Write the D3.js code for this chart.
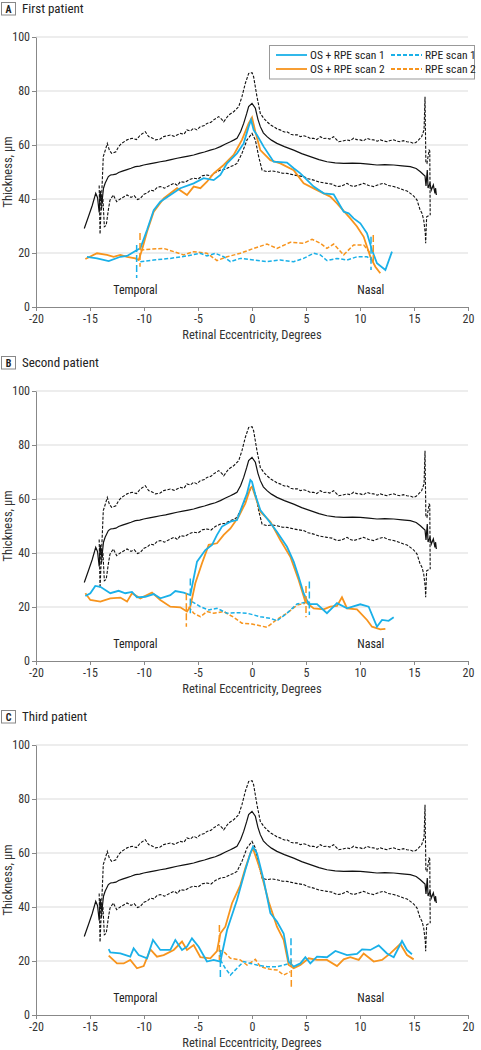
<!DOCTYPE html>
<html><head><meta charset="utf-8">
<script src="https://cdn.jsdelivr.net/npm/d3@7"></script>
<style>
body{margin:0;background:#fff}
svg text{font-family:"Liberation Sans Narrow","Roboto Condensed","Liberation Sans",sans-serif;fill:#333}
</style>
</head><body>
<svg id="chart" width="481" height="1050"></svg>
<script>
// ---------- DATA ----------
const xTicks = [-20,-15,-10,-5,0,5,10,15,20];
const yTicks = [0,20,40,60,80,100];
const panelLetters = ["A","B","C"];
const panelTitles = ["First patient","Second patient","Third patient"];
const legendLabels = ["OS + RPE scan 1","OS + RPE scan 2","RPE scan 1","RPE scan 2"];
const sideLabels = [["Temporal",-10.8],["Nasal",11.0]];

// normative data (same in every panel): mean and bounds
const normMean = [[-15.53,29.1],[-15.1,34],[-14.8,37.5],[-14.47,42.1],[-14.3,40.5],[-14.15,35],[-14.05,43],[-13.9,38.5],[-13.75,44],[-13.6,45.8],[-13.3,48.3],[-13.1,48.9],[-12.84,49],[-12.6,49.2],[-12.35,49.8],[-12.0,50.3],[-11.57,50.9],[-11.2,51.4],[-10.8,52.0],[-10.4,52.2],[-10.03,52.6],[-9.5,53.0],[-9.0,53.4],[-8.49,53.8],[-8.0,54.1],[-7.5,54.6],[-6.94,55.1],[-6.4,55.5],[-5.9,55.9],[-5.4,56.3],[-4.9,56.9],[-4.4,57.4],[-3.86,58.1],[-3.4,58.6],[-2.93,59.4],[-2.5,60.3],[-2.0,61.2],[-1.7,61.8],[-1.39,62.5],[-1.05,65],[-0.77,68.0],[-0.5,71.5],[-0.31,74.2],[0,75.4],[0.31,73.6],[0.55,69.5],[0.77,66.8],[1.05,64.5],[1.39,63.1],[1.8,61.8],[2.31,60.6],[3.0,59.4],[3.86,58.1],[4.6,56.8],[5.4,55.7],[6.2,54.6],[6.94,53.8],[7.7,53.4],[8.49,53.2],[9.3,53.3],[10.03,53.2],[10.8,52.9],[11.57,52.6],[12.3,52.7],[13.12,52.6],[13.9,52.3],[14.66,52.0],[15.2,51.3],[15.59,50.1],[16.02,48.5],[16.11,44.8],[16.23,50.7],[16.3,44.1],[16.48,45.8],[16.6,43.3],[16.79,45.2],[16.94,42.1],[17.0,44],[17.07,41.5]];
const normUpper = [[-14.15,45],[-14.07,27],[-13.77,55.7],[-13.55,58.5],[-13.4,60.6],[-13.2,58],[-12.99,56.9],[-12.6,57.5],[-12.35,59.4],[-12.07,60.6],[-11.57,61.9],[-11.1,62.5],[-10.7,62],[-10.34,63.7],[-9.88,64.9],[-9.57,63.1],[-9.2,62.5],[-8.95,61.9],[-8.5,62.2],[-8.18,63.1],[-7.56,63.7],[-7.2,63.2],[-6.64,64.3],[-6.3,64.0],[-6.02,65.6],[-5.7,65.2],[-5.4,66.2],[-5.1,65.6],[-4.78,66.8],[-4.4,67.2],[-4.17,68.0],[-3.8,68.4],[-3.55,69.3],[-3.09,70.5],[-2.8,69.5],[-2.62,68.6],[-2.16,71.1],[-1.7,72.3],[-1.23,74.2],[-0.93,77.9],[-0.62,82.8],[-0.31,86.5],[0,86.8],[0.15,85.3],[0.46,77.9],[0.77,71.7],[1.1,69.8],[1.39,68.6],[1.7,67.5],[2.0,66.8],[2.3,66.0],[2.6,65.6],[3.0,64.8],[3.24,64.9],[3.6,64.0],[3.86,63.7],[4.2,63.8],[4.48,63.1],[4.8,63.4],[5.09,63.1],[5.4,62.4],[5.71,62.5],[6.0,62.0],[6.33,63.1],[6.6,62.4],[6.94,62.5],[7.2,62.2],[7.56,63.1],[8.02,61.2],[8.4,61.5],[8.8,61.9],[9.1,61.6],[9.41,62.5],[9.7,62],[10.03,61.9],[10.3,61.5],[10.65,62.5],[11.0,62.0],[11.27,61.9],[11.6,61.4],[11.88,61.9],[12.2,61.5],[12.5,61.2],[12.8,61.7],[13.12,61.9],[13.4,61.4],[13.73,61.2],[14.0,61.6],[14.35,61.2],[14.7,61.0],[14.97,60.6],[15.2,61.0],[15.43,61.9],[15.7,63.0],[15.93,65.6],[16.02,77.9],[16.1,53.5],[16.2,53.2],[16.4,58.1],[16.46,57.8],[16.5,34]];
const normLower = [[-14.1,42],[-13.95,36],[-13.8,40],[-13.67,29.7],[-13.5,30.2],[-13.3,36],[-13.15,39.6],[-12.84,41.5],[-12.53,39.0],[-12.35,39.6],[-12.0,40.5],[-11.57,41.5],[-11.2,40.6],[-10.9,41.2],[-10.6,39.8],[-10.34,40.2],[-10.0,41.8],[-9.7,42.2],[-9.41,43.3],[-9.1,43.0],[-8.8,44.2],[-8.49,44.6],[-8.1,44.0],[-7.56,45.2],[-7.2,45.8],[-6.9,45.0],[-6.64,46.4],[-6.2,46.2],[-5.8,47.2],[-5.4,47.7],[-5.0,47.4],[-4.6,48.6],[-4.17,48.9],[-3.8,48.5],[-3.4,49.8],[-2.93,50.7],[-2.5,51.0],[-2.0,52.0],[-1.7,52.4],[-1.39,53.2],[-0.93,56.9],[-0.46,61.9],[0,64.3],[0.31,61.9],[0.62,55.7],[0.93,50.7],[1.39,50.1],[1.8,50.4],[2.31,50.1],[2.8,49.6],[3.24,49.5],[3.86,48.9],[4.3,48.6],[4.78,48.3],[5.2,47.5],[5.71,47.0],[6.3,46.2],[6.94,45.8],[7.4,45.5],[7.87,44.6],[8.3,44.8],[8.8,45.8],[9.1,45.0],[9.41,44.6],[9.9,45.2],[10.34,45.8],[10.8,45.0],[11.27,44.6],[11.7,45.3],[12.19,45.8],[12.6,45.0],[13.12,44.6],[13.6,44.0],[14.04,43.3],[14.35,43.0],[14.66,42.1],[15.0,41.0],[15.28,39.6],[15.56,36],[15.74,34.7],[15.9,32.2],[16.05,27],[16.08,23.6],[16.17,33.4],[16.45,34]];

// Panel A
const osScan1A = [[-15.28,18.6],[-14.35,18.0],[-13.27,17.0],[-12.19,18.6],[-11.57,18.9],[-10.65,21.1],[-10.34,21.7],[-9.72,28.5],[-9.1,35.9],[-8.49,39.0],[-7.56,41.5],[-6.64,44.0],[-5.4,45.8],[-4.48,47.7],[-3.55,47.0],[-2.93,48.9],[-2.31,53.2],[-1.39,56.9],[-0.77,60.6],[-0.31,66.8],[-0.09,69.3],[0.15,65.6],[0.46,63.7],[1.08,59.4],[2.0,53.8],[3.24,53.5],[3.86,51.4],[4.48,49.5],[5.71,44.6],[6.64,42.1],[7.56,41.7],[8.49,35.3],[8.95,34.7],[9.41,32.8],[10.03,31.0],[10.65,27.3],[11.11,21.1],[11.57,16.2],[12.35,13.7],[12.96,20.5]];
const osScan2A = [[-15.43,17.8],[-14.35,19.9],[-13.43,19.3],[-12.81,18.6],[-12.19,19.3],[-11.57,18.6],[-10.8,18.0],[-10.49,17.4],[-10.19,21.1],[-9.72,27.9],[-9.1,35.3],[-8.18,40.2],[-6.94,44.0],[-6.02,41.5],[-5.4,44.6],[-4.78,44.0],[-4.17,46.4],[-3.55,49.5],[-2.62,52.6],[-1.7,56.3],[-0.93,61.9],[-0.31,68.0],[0,70.2],[0.31,64.9],[0.77,58.1],[1.7,54.4],[2.62,53.2],[3.86,50.7],[4.78,45.8],[6.02,43.3],[7.25,40.9],[7.87,38.4],[9.1,32.8],[9.72,29.8],[10.34,26.0],[10.96,18.6],[11.42,14.9],[11.88,12.5]];
const rpeScan1A = [[-10.34,16.8],[-9.1,17.4],[-7.56,18.0],[-6.02,18.9],[-4.78,19.9],[-4.17,18.9],[-3.4,19.9],[-2.62,18.6],[-2.0,16.8],[-1.08,18.0],[0.15,17.4],[1.39,16.8],[2.62,17.4],[3.86,16.8],[4.78,18.0],[5.71,19.9],[6.33,19.3],[6.94,17.2],[7.87,18.0],[8.8,17.4],[9.72,18.6],[10.65,18.6],[11.11,17.4]];
const rpeScan2A = [[-10.34,21.1],[-9.41,21.4],[-8.18,21.7],[-7.25,20.5],[-6.33,19.3],[-5.4,20.5],[-4.17,19.9],[-3.24,17.2],[-2.31,18.6],[-1.08,19.9],[0.15,21.7],[1.39,23.3],[2.31,21.7],[3.55,24.0],[4.78,23.6],[5.56,25.1],[6.33,23.6],[6.94,21.7],[7.56,23.3],[8.49,19.3],[9.41,23.0],[10.34,23.0],[10.96,19.9]];
// boundary markers: [x, yTop, yBottom]
const edges1A = [[-10.68,23,10.7],[11.02,26,13.7]];
const edges2A = [[-10.37,27.4,14.9],[11.23,26.7,16.8]];

// Panel B
const osScan1B = [[-15.43,24.1],[-14.97,25.1],[-14.51,27.8],[-14.04,27.5],[-13.12,25.1],[-12.35,26.0],[-11.73,25.1],[-11.11,25.6],[-10.65,23.6],[-9.88,23.8],[-9.1,24.8],[-8.49,23.2],[-7.56,24.4],[-7.1,25.9],[-6.33,25.3],[-5.71,24.4],[-5.56,27.5],[-5.09,36.8],[-4.32,41.1],[-3.7,43.0],[-3.24,46.7],[-2.78,49.8],[-2.0,51.6],[-1.39,52.2],[-0.93,57.2],[-0.46,62.1],[-0.15,67.0],[0,66.4],[0.31,61.5],[0.77,55.9],[1.39,52.8],[2.31,47.9],[3.24,42.3],[3.86,36.8],[4.32,31.2],[4.78,25.1],[5.25,21.1],[6.02,21.1],[6.94,17.7],[7.87,21.4],[8.8,19.5],[10.03,21.0],[10.8,20.1],[11.57,12.7],[12.04,15.2],[12.65,14.9],[13.12,16.2]];
const osScan2B = [[-15.43,25.1],[-14.97,22.6],[-14.04,22.0],[-13.12,23.2],[-12.19,23.5],[-11.57,22.0],[-11.11,25.1],[-10.34,23.2],[-9.26,25.3],[-8.49,22.6],[-7.56,20.1],[-6.64,19.9],[-6.02,18.3],[-5.71,20.1],[-5.25,28.8],[-4.63,36.2],[-4.01,43.0],[-3.24,43.6],[-2.62,46.7],[-2.0,49.1],[-1.23,53.5],[-0.62,58.4],[-0.15,64.0],[0,64.6],[0.31,60.9],[0.77,55.3],[1.7,51.6],[2.62,44.8],[3.55,38.6],[4.32,30.0],[4.94,22.0],[5.71,19.5],[6.64,19.1],[7.25,20.1],[7.87,20.4],[8.33,23.6],[8.8,19.5],[9.72,19.1],[10.65,15.2],[11.11,12.7],[11.88,11.7],[12.35,11.9]];
const rpeScan1B = [[-5.56,22.0],[-4.78,20.1],[-4.01,18.9],[-3.24,19.5],[-2.31,17.7],[-1.39,17.9],[-0.46,17.7],[0.77,16.4],[1.7,15.8],[2.31,14.9],[3.24,17.7],[4.17,21.1],[5.25,22.0]];
const rpeScan2B = [[-5.86,20.1],[-5.4,17.7],[-4.78,16.4],[-4.17,18.3],[-3.55,17.7],[-2.62,18.3],[-1.7,16.2],[-0.93,14.0],[0,13.7],[0.46,13.3],[1.39,12.5],[2.31,15.4],[3.24,17.7],[4.17,20.7],[4.94,21.4]];
const edges1B = [[-5.71,30.6,17.7],[5.31,29.4,17.0]];
const edges2B = [[-6.08,25.1,12.7],[5.0,27.8,16.2]];

// Panel C
const osScan1C = [[-13.27,24.4],[-13.12,23.2],[-12.19,22.8],[-11.27,21.6],[-10.96,24.7],[-10.49,22.2],[-9.72,21.0],[-9.17,27.8],[-8.49,24.1],[-7.56,24.1],[-7.1,27.8],[-6.48,24.1],[-6.02,25.3],[-5.56,28.4],[-4.94,25.3],[-4.17,19.8],[-3.55,20.4],[-2.93,19.8],[-2.31,31.5],[-1.39,42.6],[-0.62,53.7],[-0.15,59.9],[0.09,62.3],[0.46,59.9],[1.08,50.0],[1.7,37.7],[2.31,34.6],[2.93,30.2],[3.4,19.8],[3.86,17.9],[4.48,19.1],[4.94,21.4],[5.4,19.1],[6.02,21.6],[6.94,21.4],[7.72,23.7],[8.8,22.2],[9.72,22.6],[10.19,24.3],[10.96,24.1],[11.73,25.8],[12.5,22.8],[13.12,21.4],[13.89,27.4],[14.35,24.1],[14.81,22.5]];
const osScan2C = [[-13.27,22.0],[-12.5,19.1],[-11.88,19.1],[-11.27,20.4],[-10.65,17.3],[-10.03,18.1],[-9.41,24.3],[-8.8,21.6],[-8.18,22.2],[-7.25,24.1],[-6.48,27.2],[-6.02,24.1],[-5.4,25.9],[-4.78,21.4],[-3.86,21.0],[-3.24,23.7],[-2.93,30.2],[-2.47,32.7],[-1.85,41.4],[-1.08,48.1],[-0.62,54.3],[-0.15,59.9],[0.09,61.7],[0.46,57.4],[0.77,53.7],[1.54,42.0],[2.31,32.7],[2.93,27.8],[3.4,18.5],[3.86,17.3],[4.48,18.5],[5.25,21.0],[6.02,20.4],[6.94,20.4],[7.87,18.1],[8.49,20.6],[9.1,21.4],[9.88,20.4],[10.34,22.8],[11.27,19.8],[12.04,20.4],[12.81,22.8],[13.73,26.3],[14.35,22.2],[14.97,20.6]];
const rpeScan1C = [[-2.93,20.4],[-2.47,17.3],[-2.0,14.8],[-1.39,17.3],[-0.77,19.8],[-0.15,19.1],[0.46,18.5],[1.39,17.9],[2.31,17.9],[2.93,18.5],[3.55,19.1]];
const rpeScan2C = [[-3.09,24.1],[-2.62,23.5],[-2.0,21.0],[-1.08,20.4],[-0.46,18.5],[0.31,20.6],[0.77,17.9],[1.7,16.9],[2.31,16.7],[2.93,14.8],[3.55,16.0]];
const edges1C = [[-2.93,24.1,13.6],[3.61,28.4,17.3]];
const edges2C = [[-3.02,33.3,20.4],[3.64,20.4,10.5]];

// ---------- DRAW ----------
const BLUE = "#1ab0e8", ORANGE = "#f7941d";
const panels = [
  {os1:osScan1A, os2:osScan2A, rpe1:rpeScan1A, rpe2:rpeScan2A, e1:edges1A, e2:edges2A},
  {os1:osScan1B, os2:osScan2B, rpe1:rpeScan1B, rpe2:rpeScan2B, e1:edges1B, e2:edges2B},
  {os1:osScan1C, os2:osScan2C, rpe1:rpeScan1C, rpe2:rpeScan2C, e1:edges1C, e2:edges2C}
];
const svg = d3.select("#chart");
const PANEL_STEP = 354;
const x = d3.scaleLinear().domain([-20,20]).range([36,468]);

panels.forEach((p,i)=>{
  const dy = i*PANEL_STEP;
  const g = svg.append("g");
  const y = d3.scaleLinear().domain([0,100]).range([307+dy, 37+dy]);
  const line = d3.line().x(d=>x(d[0])).y(d=>y(d[1]));

  // header
  g.append("rect").attr("x",1.5).attr("y",2.5+dy).attr("width",14).attr("height",12.5)
    .attr("fill","#fff").attr("stroke","#888").attr("stroke-width",1);
  g.append("text").attr("x",8.5).attr("y",12.8+dy).attr("text-anchor","middle")
    .attr("font-size",10).attr("font-weight","bold").style("fill","#222").text(panelLetters[i]);
  g.append("text").attr("x",22).attr("y",13+dy).attr("font-size",13).style("fill","#222").text(panelTitles[i]);

  // grid
  g.append("g").selectAll("line").data(yTicks.filter(t=>t>0)).join("line")
    .attr("x1",x(-20)).attr("x2",x(20)).attr("y1",d=>y(d)).attr("y2",d=>y(d))
    .attr("stroke","#dcdcdc").attr("stroke-width",1.2);

  // axes
  const ya = g.append("g").attr("transform",`translate(${x(-20)},0)`)
    .call(d3.axisLeft(y).tickValues(yTicks).tickSize(4).tickSizeOuter(0).tickPadding(2));
  const xa = g.append("g").attr("transform",`translate(0,${y(0)})`)
    .call(d3.axisBottom(x).tickValues(xTicks).tickSize(4).tickSizeOuter(0).tickPadding(3)
      .tickFormat(d=>d));
  [ya,xa].forEach(a=>{
    a.select(".domain").attr("stroke","#888");
    a.selectAll(".tick line").attr("stroke","#888");
    a.selectAll(".tick text").attr("font-size",12).style("fill","#333")
      .style("font-family",'"Liberation Sans Narrow","Roboto Condensed","Liberation Sans",sans-serif');
  });

  // axis titles
  g.append("text").attr("x",252).attr("y",y(0)+32).attr("text-anchor","middle")
    .attr("font-size",12.5).text("Retinal Eccentricity, Degrees");
  g.append("text").attr("transform",`translate(12,${(y(0)+y(100))/2}) rotate(-90)`)
    .attr("text-anchor","middle").attr("font-size",12.5).text("Thickness, µm");

  // side labels
  g.selectAll(".side").data(sideLabels).join("text")
    .attr("x",d=>x(d[1])).attr("y",y(6.3)+4).attr("text-anchor","middle")
    .attr("font-size",12).style("fill","#222").text(d=>d[0]);

  // normative
  g.append("path").attr("d",line(normUpper)).attr("fill","none").attr("stroke","#111")
    .attr("stroke-width",1.1).attr("stroke-dasharray","3,1.5");
  g.append("path").attr("d",line(normLower)).attr("fill","none").attr("stroke","#111")
    .attr("stroke-width",1.1).attr("stroke-dasharray","3,1.5");
  g.append("path").attr("d",line(normMean)).attr("fill","none").attr("stroke","#111")
    .attr("stroke-width",1.2);

  // RPE (dashed)
  g.append("path").attr("d",line(p.rpe2)).attr("fill","none").attr("stroke",ORANGE)
    .attr("stroke-width",1.5).attr("stroke-dasharray","4,2");
  g.append("path").attr("d",line(p.rpe1)).attr("fill","none").attr("stroke",BLUE)
    .attr("stroke-width",1.5).attr("stroke-dasharray","4,2");
  // OS+RPE
  g.append("path").attr("d",line(p.os2)).attr("fill","none").attr("stroke",ORANGE)
    .attr("stroke-width",1.8);
  g.append("path").attr("d",line(p.os1)).attr("fill","none").attr("stroke",BLUE)
    .attr("stroke-width",1.8);

  // boundary markers
  [[p.e2,ORANGE],[p.e1,BLUE]].forEach(([arr,c])=>{
    g.append("g").selectAll("line").data(arr).join("line")
      .attr("x1",d=>x(d[0])).attr("x2",d=>x(d[0])).attr("y1",d=>y(d[1])).attr("y2",d=>y(d[2]))
      .attr("stroke",c).attr("stroke-width",1.5).attr("stroke-dasharray","7,3");
  });

  // legend (panel A only)
  if(i===0){
    const lg = g.append("g");
    lg.append("rect").attr("x",269.5).attr("y",45.5).attr("width",205).attr("height",33.5)
      .attr("fill","#fff").attr("stroke","#999").attr("stroke-width",1);
    const items = [
      {lab:legendLabels[0], c:BLUE, dash:null, x0:276, yy:55},
      {lab:legendLabels[1], c:ORANGE, dash:null, x0:276, yy:69},
      {lab:legendLabels[2], c:BLUE, dash:"4,2", x0:391, yy:55},
      {lab:legendLabels[3], c:ORANGE, dash:"4,2", x0:391, yy:69}
    ];
    items.forEach(it=>{
      lg.append("line").attr("x1",it.x0).attr("x2",it.x0+31).attr("y1",it.yy).attr("y2",it.yy)
        .attr("stroke",it.c).attr("stroke-width",1.8).attr("stroke-dasharray",it.dash);
      lg.append("text").attr("x",it.x0+34).attr("y",it.yy+4).attr("font-size",11.5)
        .style("fill","#222").text(it.lab);
    });
  }
});
</script>
</body></html>
